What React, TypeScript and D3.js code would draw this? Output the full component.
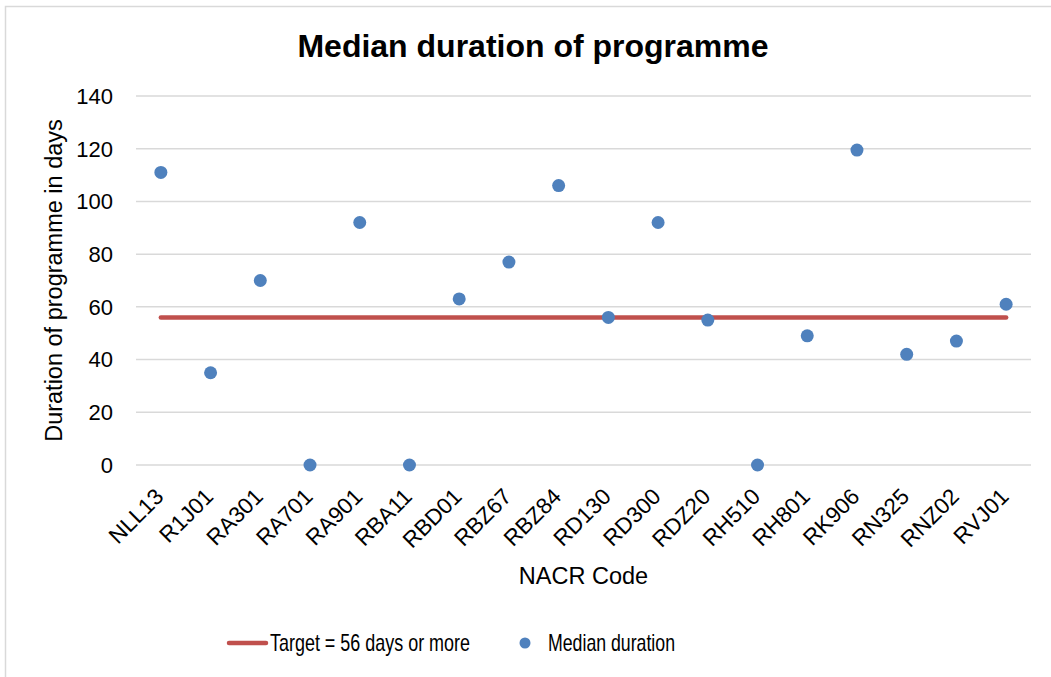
import { useEffect, useRef } from 'react';
import * as d3 from 'd3';

const codes = [
  'NLL13', 'R1J01', 'RA301', 'RA701', 'RA901', 'RBA11', 'RBD01', 'RBZ67', 'RBZ84',
  'RD130', 'RD300', 'RDZ20', 'RH510', 'RH801', 'RK906', 'RN325', 'RNZ02', 'RVJ01',
];
const medianDuration = [111, 35, 70, 0, 92, 0, 63, 77, 106, 56, 92, 55, 0, 49, 119.5, 42, 47, 61];
const target = 56;
const yTicks = [0, 20, 40, 60, 80, 100, 120, 140];

function App() {
  const svgRef = useRef<SVGSVGElement>(null);

  useEffect(() => {
    if (!svgRef.current) return;
    const svg = d3.select(svgRef.current);
    svg.selectAll('*').remove();

    const width = 1051;
    const height = 677;
    const left = 136, right = 1031, top = 96, bottom = 465;
    const font = '"Liberation Sans", Arial, sans-serif';

    svg.attr('width', width).attr('height', height).attr('viewBox', `0 0 ${width} ${height}`);

    svg.append('rect')
      .attr('width', width).attr('height', height).attr('fill', '#fff');

    // chart border (cut off at right / bottom like the screenshot)
    svg.append('rect')
      .attr('x', 5.5).attr('y', 6.5)
      .attr('width', 1100).attr('height', 700)
      .attr('fill', 'none')
      .attr('stroke', '#d9d9d9')
      .attr('stroke-width', 1.5);

    const x = d3.scaleBand<string>().domain(codes).range([left, right]);
    const cx = (c: string) => (x(c) || 0) + x.bandwidth() / 2;
    const y = d3.scaleLinear().domain([0, 140]).range([bottom, top]);

    // gridlines
    svg.append('g')
      .selectAll('line')
      .data(yTicks)
      .enter()
      .append('line')
      .attr('x1', left).attr('x2', right)
      .attr('y1', d => y(d)).attr('y2', d => y(d))
      .attr('stroke', '#d9d9d9')
      .attr('stroke-width', 1.5);

    // y tick labels
    svg.append('g')
      .selectAll('text')
      .data(yTicks)
      .enter()
      .append('text')
      .attr('x', 113)
      .attr('y', d => y(d))
      .attr('dy', '0.36em')
      .attr('text-anchor', 'end')
      .attr('font-family', font)
      .attr('font-size', 22)
      .attr('fill', '#000')
      .text(d => d);

    // x tick labels, rotated
    svg.append('g')
      .selectAll('text')
      .data(codes)
      .enter()
      .append('text')
      .attr('transform', d => `translate(${cx(d) + 4}, 498) rotate(-45)`)
      .attr('text-anchor', 'end')
      .attr('font-family', font)
      .attr('font-size', 22.5)
      .attr('fill', '#000')
      .text(d => d);

    // target line
    svg.append('line')
      .attr('x1', cx(codes[0])).attr('x2', cx(codes[codes.length - 1]))
      .attr('y1', y(target)).attr('y2', y(target))
      .attr('stroke', '#c0504d')
      .attr('stroke-width', 4.5)
      .attr('stroke-linecap', 'round');

    // median points
    svg.append('g')
      .selectAll('circle')
      .data(codes.map((c, i) => ({ code: c, value: medianDuration[i] })))
      .enter()
      .append('circle')
      .attr('cx', d => cx(d.code))
      .attr('cy', d => y(d.value))
      .attr('r', 6.5)
      .attr('fill', '#4f81bd');

    // title
    svg.append('text')
      .attr('x', 533).attr('y', 57)
      .attr('text-anchor', 'middle')
      .attr('font-family', font)
      .attr('font-size', 32)
      .attr('font-weight', 'bold')
      .attr('fill', '#000')
      .text('Median duration of programme');

    // axis titles
    svg.append('text')
      .attr('transform', `translate(62, ${(top + bottom) / 2}) rotate(-90)`)
      .attr('text-anchor', 'middle')
      .attr('font-family', font)
      .attr('font-size', 23.5)
      .attr('fill', '#000')
      .text('Duration of programme in days');

    svg.append('text')
      .attr('x', (left + right) / 2).attr('y', 584)
      .attr('text-anchor', 'middle')
      .attr('font-family', font)
      .attr('font-size', 23.5)
      .attr('fill', '#000')
      .text('NACR Code');

    // legend
    const legend = svg.append('g');
    legend.append('line')
      .attr('x1', 229).attr('x2', 266)
      .attr('y1', 643).attr('y2', 643)
      .attr('stroke', '#c0504d')
      .attr('stroke-width', 4.5)
      .attr('stroke-linecap', 'round');
    legend.append('text')
      .attr('x', 270).attr('y', 651)
      .attr('font-family', font)
      .attr('font-size', 24)
      .attr('textLength', 200)
      .attr('lengthAdjust', 'spacingAndGlyphs')
      .attr('fill', '#000')
      .text('Target = 56 days or more');
    legend.append('circle')
      .attr('cx', 525).attr('cy', 643)
      .attr('r', 5.5)
      .attr('fill', '#4f81bd');
    legend.append('text')
      .attr('x', 548).attr('y', 651)
      .attr('font-family', font)
      .attr('font-size', 24)
      .attr('textLength', 127)
      .attr('lengthAdjust', 'spacingAndGlyphs')
      .attr('fill', '#000')
      .text('Median duration');
  }, []);

  return (
    <svg ref={svgRef} style={{ position: 'absolute', left: 0, top: 0, display: 'block' }} />
  );
}

export default App;
